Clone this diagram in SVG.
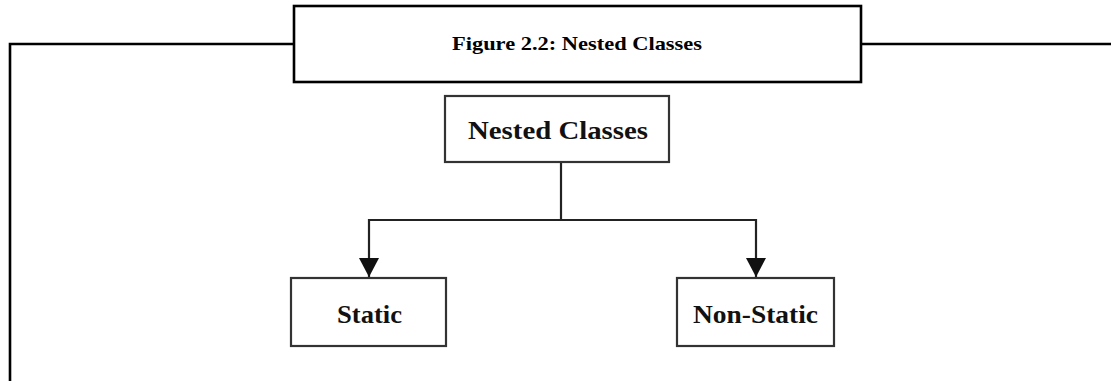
<svg xmlns="http://www.w3.org/2000/svg" width="1111" height="381" viewBox="0 0 1111 381">
  <defs>
    <!-- filled triangular head, drawn along +x so orient="auto" turns it with the line -->
    <marker id="arrow" viewBox="0 0 19 20" refX="19" refY="10" markerWidth="19" markerHeight="20" markerUnits="userSpaceOnUse" orient="auto">
      <path d="M0,0 L19,10 L0,20 Z" fill="#111"/>
    </marker>
  </defs>
  <style>
    .frame { fill: none; stroke: #000; stroke-width: 2.6; }
    .box { fill: #fff; stroke: #333; stroke-width: 2.2; }
    .edge { fill: none; stroke: #222; stroke-width: 2.2; }
    .title { font-family: "Liberation Serif", serif; font-weight: bold; font-size: 19px; fill: #000; text-anchor: middle; }
    .label { font-family: "Liberation Serif", serif; font-weight: bold; font-size: 26px; fill: #111; text-anchor: middle; }
  </style>
  <rect width="1111" height="381" fill="#fff"/>

  <!-- figure frame with caption box -->
  <g id="frame">
    <polyline class="frame" points="10,381 10,44 294,44"/>
    <line class="frame" x1="861" y1="44" x2="1111" y2="44"/>
    <rect class="frame" x="294" y="6" width="567" height="76"/>
    <text class="title" x="577" y="50" textLength="250" lengthAdjust="spacingAndGlyphs">Figure 2.2: Nested Classes</text>
  </g>

  <!-- connectors -->
  <g id="connectors">
    <polyline class="edge" points="561,162 561,220"/>
    <polyline class="edge" points="369,220 756,220"/>
    <line class="edge" x1="369" y1="219" x2="369" y2="277" marker-end="url(#arrow)"/>
    <line class="edge" x1="756" y1="219" x2="756" y2="277" marker-end="url(#arrow)"/>
  </g>

  <g id="node-nested">
    <rect class="box" x="445" y="96" width="224" height="66"/>
    <text class="label" x="558" y="139" textLength="180" lengthAdjust="spacingAndGlyphs">Nested Classes</text>
  </g>

  <g id="node-static">
    <rect class="box" x="291" y="278" width="155" height="68"/>
    <text class="label" x="369.5" y="323" textLength="65" lengthAdjust="spacingAndGlyphs">Static</text>
  </g>

  <g id="node-nonstatic">
    <rect class="box" x="677" y="278" width="157" height="68"/>
    <text class="label" x="755.5" y="323" textLength="125" lengthAdjust="spacingAndGlyphs">Non-Static</text>
  </g>
</svg>
